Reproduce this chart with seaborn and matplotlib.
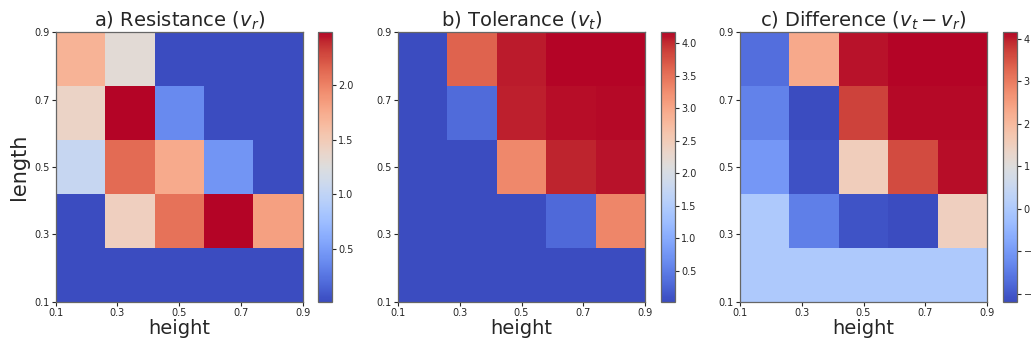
import numpy as np
import matplotlib
matplotlib.use("Agg")
import matplotlib.pyplot as plt
import seaborn as sns

# grid coordinates
heights = [0.1, 0.3, 0.5, 0.7, 0.9]          # x categories (columns)
lengths = [0.9, 0.7, 0.5, 0.3, 0.1]          # y categories (rows, top to bottom)
tick_labels = ["0.1", "0.3", "0.5", "0.7", "0.9"]

# a) Resistance v_r  (rows: length 0.9 -> 0.1, columns: height 0.1 -> 0.9)
resistance = np.array([
    [1.70, 1.30, 0.02, 0.02, 0.02],
    [1.40, 2.48, 0.38, 0.02, 0.02],
    [1.05, 2.12, 1.75, 0.45, 0.02],
    [0.02, 1.45, 2.08, 2.48, 1.82],
    [0.02, 0.02, 0.02, 0.02, 0.02],
])

# b) Tolerance v_t
tolerance = np.array([
    [0.02, 3.62, 4.08, 4.16, 4.17],
    [0.02, 0.32, 4.07, 4.13, 4.14],
    [0.02, 0.02, 3.30, 4.05, 4.12],
    [0.02, 0.02, 0.02, 0.30, 3.32],
    [0.02, 0.02, 0.02, 0.02, 0.02],
])

# c) Difference v_t - v_r
difference = tolerance - resistance

titles = [r"a) Resistance ($v_r$)", r"b) Tolerance ($v_t$)", r"c) Difference ($v_t - v_r$)"]
datasets = [resistance, tolerance, difference]

sns.set_style("white")
W, H = 1031, 345
fig = plt.figure(figsize=(W / 100, H / 100), dpi=100)

ax_lefts = [55.7, 398.0, 740.0]
cax_lefts = [318.0, 660.7, 1003.3]
ax_w, ax_top, ax_bot = 247.0, 32.3, 301.7
cax_w = 14.2

positions = [0, 1.25, 2.5, 3.75, 5]

for i in range(3):
    ax = fig.add_axes([ax_lefts[i] / W, (H - ax_bot) / H, ax_w / W, (ax_bot - ax_top) / H])
    cax = fig.add_axes([cax_lefts[i] / W, (H - ax_bot) / H, cax_w / W, (ax_bot - ax_top) / H])
    data = datasets[i]
    sns.heatmap(data, ax=ax, cmap="coolwarm", cbar_ax=cax,
                vmin=data.min(), vmax=data.max(), square=False,
                xticklabels=False, yticklabels=False)
    ax.set_aspect("auto")
    ax.set_xticks(positions)
    ax.set_xticklabels(tick_labels, fontsize=7, rotation=0)
    ax.set_yticks(positions)
    ax.set_yticklabels(tick_labels[::-1], fontsize=7, rotation=0)
    ax.tick_params(axis="both", which="both", length=3, width=0.8, direction="out",
                   bottom=True, left=True, colors="0.15", pad=1.5)
    for s in ax.spines.values():
        s.set_visible(True)
        s.set_color("0.4")
        s.set_linewidth(0.9)
    ax.set_title(titles[i], fontsize=14, pad=2)
    ax.set_xlabel("height", fontsize=14, labelpad=1)
    if i == 0:
        ax.set_ylabel("length", fontsize=15, labelpad=4)
    cax.tick_params(labelsize=7, length=3, width=0.8, colors="0.15", pad=1.5, right=True)
    cb = ax.collections[0].colorbar
    cb.outline.set_visible(True)
    cb.outline.set_edgecolor("0.4")
    cb.outline.set_linewidth(0.9)

fig.savefig("out.png", dpi=100)
